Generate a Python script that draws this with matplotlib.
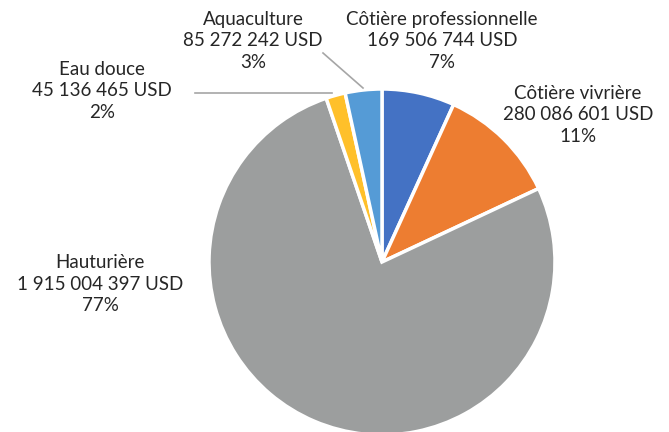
import matplotlib
matplotlib.use("Agg")
import matplotlib.pyplot as plt

plt.rcParams["font.family"] = ["Lato", "DejaVu Sans"]

categories = ["Côtière professionnelle", "Côtière vivrière", "Hauturière",
              "Eau douce", "Aquaculture"]
values_usd = [169506744, 280086601, 1915004397, 45136465, 85272242]
pct_labels = ["7%", "11%", "77%", "2%", "3%"]
colors = ["#4472C4", "#ED7D31", "#9C9E9E", "#FFC02A", "#559BD6"]

W, H = 669, 432
CX, CY, R = 382, 262, 173   # pie centre and radius in pixels


def to_data(px, py):
    return (px - CX) / R, (CY - py) / R


fig = plt.figure(figsize=(W / 100, H / 100), dpi=100)
ax = fig.add_axes([(CX - R) / W, (H - CY - R) / H, 2 * R / W, 2 * R / H])

ax.pie(values_usd, colors=colors, startangle=90, counterclock=False,
       radius=1, wedgeprops=dict(edgecolor="white", linewidth=2.5),
       frame=False)
for p in ax.patches:
    p.set_clip_on(False)

# pie() resets limits, so fix them afterwards
ax.set_xlim(-1, 1)
ax.set_ylim(-1, 1)
ax.set_aspect("equal")
ax.axis("off")


def fmt_usd(v):
    return f"{v:,}".replace(",", " ") + " USD"


# label centres in pixels
label_pos = [(442, 41), (578, 115), (100, 284), (102, 91), (253, 41)]
for name, v, pct, (px, py) in zip(categories, values_usd, pct_labels, label_pos):
    x, y = to_data(px, py)
    ax.text(x, y, f"{name}\n{fmt_usd(v)}\n{pct}", ha="center", va="center",
            fontsize=13.5, color="#262626", linespacing=1.3, clip_on=False)

# leader lines for the two thin slices
for (x0, y0), (x1, y1) in [((195, 93), (332, 93)), ((323, 53), (363, 88))]:
    a, b = to_data(x0, y0)
    c, d = to_data(x1, y1)
    ax.plot([a, c], [b, d], color="#A6A6A6", lw=1.2, clip_on=False)

fig.savefig("out.png", dpi=100)
